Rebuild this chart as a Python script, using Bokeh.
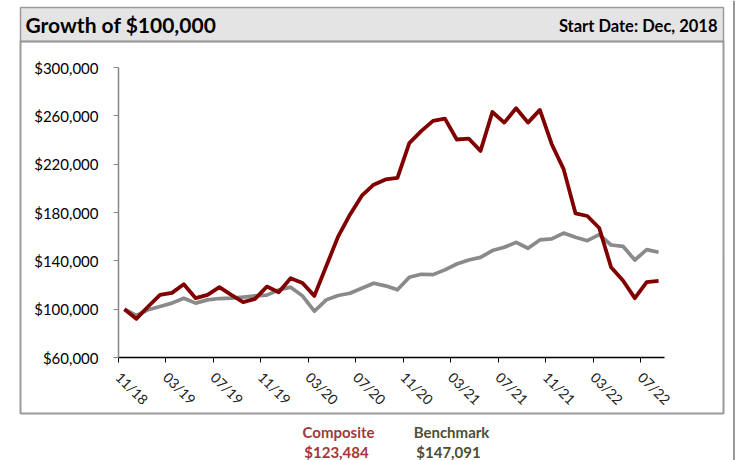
import math
from bokeh.plotting import figure
from bokeh.models import (FixedTicker, NumeralTickFormatter, Range1d,
                          ColumnDataSource)
from bokeh.core.properties import value
from bokeh.embed import file_html
from bokeh.resources import INLINE

months = ["11/18", "12/18",
          "01/19", "02/19", "03/19", "04/19", "05/19", "06/19",
          "07/19", "08/19", "09/19", "10/19", "11/19", "12/19",
          "01/20", "02/20", "03/20", "04/20", "05/20", "06/20",
          "07/20", "08/20", "09/20", "10/20", "11/20", "12/20",
          "01/21", "02/21", "03/21", "04/21", "05/21", "06/21",
          "07/21", "08/21", "09/21", "10/21", "11/21", "12/21",
          "01/22", "02/22", "03/22", "04/22", "05/22", "06/22",
          "07/22", "08/22"]

composite = [100000, 92000, 102200, 111800, 113500, 120600, 109100, 111800,
             118200, 111800, 105800, 108500, 118700, 114000, 125600, 121700,
             111000, 135500, 160000, 178200, 193900, 203000, 207400, 208700,
             237400, 247300, 255800, 257700, 240400, 241200, 231000, 263200,
             254400, 266300, 254400, 264900, 236500, 215900, 179300, 177100,
             167200, 134700, 123700, 109100, 122300, 123484]

benchmark = [100000, 94800, 99500, 102200, 105000, 109100, 105000, 107700,
             108800, 109100, 109900, 111000, 111600, 116000, 118200, 111000,
             98300, 107700, 111300, 113200, 117300, 121500, 119300, 116000,
             126400, 128900, 128600, 132500, 137400, 140700, 142900, 148500,
             151200, 155300, 150400, 157300, 158100, 163000, 159500, 156700,
             161700, 153100, 152000, 140700, 149300, 147091]

series_names = ["Composite", "Benchmark"]
tick_labels = ["11/18", "03/19", "07/19", "11/19", "03/20", "07/20",
               "11/20", "03/21", "07/21", "11/21", "03/22", "07/22"]
y_ticks = [60000, 100000, 140000, 180000, 220000, 260000, 300000]

title_text = "Growth of $100,000"
start_text = "Start Date: Dec, 2018"

FONT = "Lato"
RED = "#800000"
GRAY = "#8a8a8a"
LEG_COLORS = ["#a03a3a", "#4f4f33"]

W, H = 735, 460
# plot region in page pixels
PL, PR, PT, PB = 118, 664, 67, 357
n = len(months)
ux = (PR - PL) / n                               # px per month
uy = (y_ticks[-1] - y_ticks[0]) / (PB - PT)      # value per px


def dx(X):
    return (X - PL) / ux


def dy(Y):
    return y_ticks[0] + (PB - Y) * uy


p = figure(width=W, height=H, output_backend="svg", toolbar_location=None,
           x_range=Range1d(dx(0), dx(W)), y_range=Range1d(dy(H), dy(0)),
           min_border=0, min_border_left=0, min_border_right=0,
           min_border_top=0, min_border_bottom=0)
p.title.visible = False
p.outline_line_color = None
p.background_fill_color = "white"
p.border_fill_color = "white"
p.grid.visible = False

# header bar, chart box and page edge line
p.quad(left=[dx(20)], right=[dx(723)], top=[dy(7)], bottom=[dy(41)],
       fill_color="#e4e4e4", line_color="#9a9a9a", line_width=1.5)
p.quad(left=[dx(20)], right=[dx(723)], top=[dy(41)], bottom=[dy(413)],
       fill_alpha=0, line_color="#9a9a9a", line_width=2)
p.segment(x0=[dx(733.5)], y0=[dy(0)], x1=[dx(733.5)], y1=[dy(H)],
          line_color="#555555", line_width=1.2)

src = ColumnDataSource(dict(x=[i + 0.5 for i in range(n)],
                            comp=composite, bench=benchmark))
p.line("x", "bench", source=src, line_color=GRAY, line_width=3.7,
       line_join="round")
p.line("x", "comp", source=src, line_color=RED, line_width=3.8,
       line_join="round")

# axes, placed at the plot region's edges
tick_pos = [months.index(t) for t in tick_labels]
xa = p.xaxis[0]
xa.fixed_location = y_ticks[0]
xa.bounds = (0, n)
xa.ticker = FixedTicker(ticks=tick_pos)
xa.major_label_overrides = {t: l for t, l in zip(tick_pos, tick_labels)}
xa.major_label_orientation = -math.pi / 4
xa.major_label_text_font = FONT
xa.major_label_text_font_size = "14px"
xa.major_label_text_color = "#222222"
xa.major_label_text_baseline = "bottom"
xa.axis_line_color = "black"
xa.axis_line_width = 1.5
xa.major_tick_line_color = "black"
xa.major_tick_in = 0
xa.major_tick_out = 5
xa.minor_tick_line_color = None
xa.major_label_standoff = 12

ya = p.yaxis[0]
ya.fixed_location = 0
ya.bounds = (y_ticks[0], y_ticks[-1])
ya.ticker = FixedTicker(ticks=y_ticks)
ya.formatter = NumeralTickFormatter(format="$0,0")
ya.major_label_text_font = FONT
ya.major_label_text_font_size = "15px"
ya.major_label_text_color = "black"
ya.axis_line_color = "#868686"
ya.axis_line_width = 1.5
ya.major_tick_line_color = "#868686"
ya.major_tick_in = 0
ya.major_tick_out = 5
ya.minor_tick_line_color = None
ya.major_label_standoff = 15

# header texts
p.text(x=[dx(25)], y=[dy(24)], text=[title_text], text_font=value(FONT),
       text_font_style="bold", text_font_size="21px", text_color="black",
       text_align="left", text_baseline="middle")
p.text(x=[dx(717)], y=[dy(25)], text=[start_text], text_font=value(FONT),
       text_font_style="bold", text_font_size="16.5px", text_color="black",
       text_align="right", text_baseline="middle")

# legend texts: series name and final value
leg = ColumnDataSource(dict(
    x=[dx(338), dx(451), dx(336), dx(448)],
    y=[dy(431), dy(431), dy(451), dy(451)],
    text=series_names + [f"${composite[-1]:,}", f"${benchmark[-1]:,}"],
    color=LEG_COLORS + LEG_COLORS))
p.text(x="x", y="y", text="text", source=leg, text_color="color",
       text_font=value(FONT), text_font_style="bold", text_font_size="15px",
       text_align="center", text_baseline="middle")

open("out.html", "w").write(file_html(p, INLINE))
